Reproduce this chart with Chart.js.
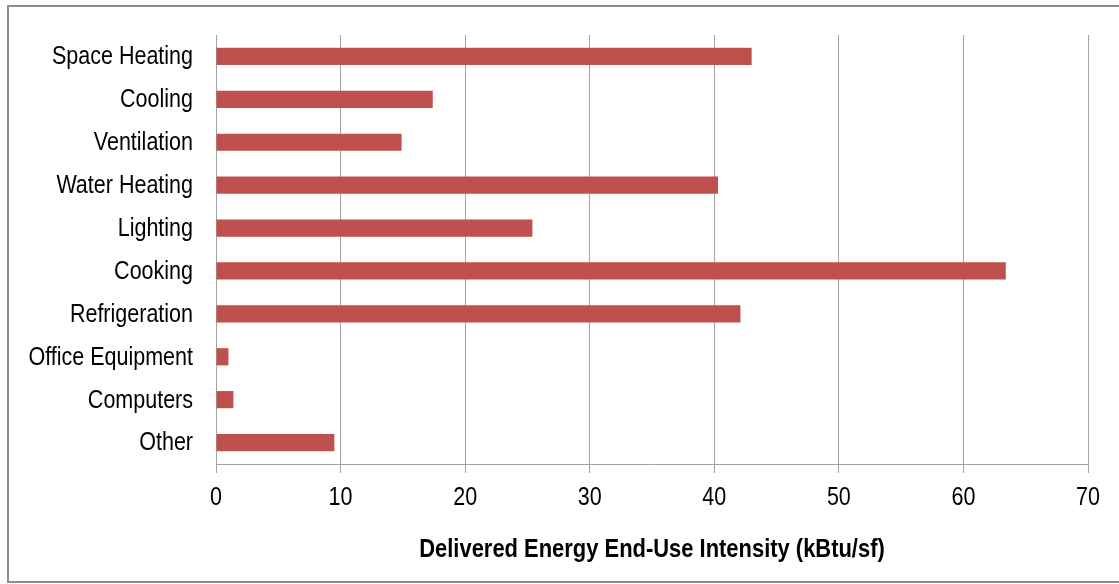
<!DOCTYPE html>
<html>
<head>
<meta charset="utf-8">
<title>Delivered Energy End-Use Intensity</title>
<script src="https://cdn.jsdelivr.net/npm/chart.js@4/dist/chart.umd.min.js"></script>
<style>
  html, body { margin: 0; padding: 0; background: #ffffff; }
  #wrap { position: relative; width: 1119px; height: 584px; }
  canvas { display: block; }
</style>
</head>
<body>
<div id="wrap"><canvas id="chart" width="1119" height="584"></canvas></div>
<script>
// End uses, top to bottom
const endUses = [
  'Space Heating', 'Cooling', 'Ventilation', 'Water Heating', 'Lighting',
  'Cooking', 'Refrigeration', 'Office Equipment', 'Computers', 'Other'
];
// Delivered energy end-use intensity, kBtu/sf
const intensity = [43.0, 17.4, 14.9, 40.3, 25.4, 63.4, 42.1, 1.0, 1.4, 9.5];
// Horizontal axis ticks
const axisMin = 0;
const axisMax = 70;
const axisStep = 10;
const axisTitle = 'Delivered Energy End-Use Intensity (kBtu/sf)';

const FONT = "'Liberation Sans', Arial, sans-serif";
const GRID = '#a3a3a3';
const TEXT_SQUEEZE = 0.86; // narrow the lettering horizontally

// Grey frame around the whole figure, plus condensed text rendering
const framePlugin = {
  id: 'frame',
  beforeInit(chart) {
    const ctx = chart.ctx;
    const baseFill = ctx.fillText.bind(ctx);
    ctx.fillText = function (text, x, y, maxWidth) {
      ctx.save();
      ctx.translate(x, y);
      ctx.scale(TEXT_SQUEEZE, 1);
      if (maxWidth === undefined) baseFill(text, 0, 0);
      else baseFill(text, 0, 0, maxWidth / TEXT_SQUEEZE);
      ctx.restore();
    };
  },
  beforeDraw(chart) {
    const ctx = chart.ctx;
    ctx.save();
    ctx.fillStyle = '#ffffff';
    ctx.fillRect(0, 0, chart.width, chart.height);
    ctx.strokeStyle = '#8c8c8c';
    ctx.lineWidth = 2;
    ctx.strokeRect(8, 6, 1120, 576);
    ctx.restore();
  }
};

new Chart(document.getElementById('chart'), {
  type: 'bar',
  data: {
    labels: endUses,
    datasets: [{
      data: intensity,
      backgroundColor: '#c0504d',
      borderWidth: 0,
      barPercentage: 0.40,
      categoryPercentage: 1.0
    }]
  },
  options: {
    indexAxis: 'y',
    responsive: false,
    animation: false,
    events: [],
    layout: { padding: { left: 0, top: 35, right: 31, bottom: 0 } },
    plugins: {
      legend: { display: false },
      tooltip: { enabled: false },
      title: { display: false }
    },
    scales: {
      x: {
        min: axisMin,
        max: axisMax,
        ticks: {
          stepSize: axisStep,
          color: '#000000',
          padding: 10,
          maxRotation: 0,
          font: { family: FONT, size: 25 }
        },
        grid: {
          color: GRID,
          lineWidth: 1,
          tickLength: 9,
          drawTicks: true
        },
        border: { display: true, color: GRID, width: 1 },
        title: {
          display: true,
          text: axisTitle,
          color: '#000000',
          font: { family: FONT, size: 25.5, weight: 'bold' },
          padding: { top: 0, bottom: 19 }
        },
        afterFit(scale) {
          scale.height = 120;
          scale.paddingLeft = 0;
          scale.paddingRight = 0;
        }
      },
      y: {
        ticks: {
          color: '#000000',
          padding: 23,
          labelOffset: 1,
          font: { family: FONT, size: 25 }
        },
        grid: { display: false, drawTicks: false },
        border: { display: true, color: GRID, width: 1 },
        afterFit(scale) {
          scale.width = 216;
          scale.paddingTop = 0;
          scale.paddingBottom = 0;
        }
      }
    }
  },
  plugins: [framePlugin]
});
</script>
</body>
</html>
